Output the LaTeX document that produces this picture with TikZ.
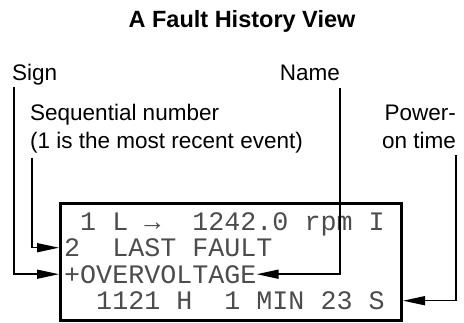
\documentclass[tikz,border=0pt]{standalone}
\usepackage{fontspec}
\setmainfont{Liberation Sans}
\newfontfamily\lcdfont{Liberation Mono}
\usetikzlibrary{arrows.meta}

\begin{document}
\begin{tikzpicture}[x=1pt,y=-1pt,>={Triangle[length=22pt,width=9pt]},inner sep=0pt,
  lbl/.style={font=\fontsize{22.5}{27}\selectfont},
  row/.style={anchor=base west,text=black!70,font=\lcdfont\fontsize{26.7}{30}\selectfont},
  conn/.style={line width=1.5pt}]
\useasboundingbox (0,0) rectangle (464,322);
\node[anchor=base,font=\bfseries\fontsize{23.5}{28}\selectfont] (title) at (242,27) {A Fault History View};
\node[lbl,anchor=base west] (sign) at (12,80) {Sign};
\node[lbl,anchor=base east] (name) at (340,80) {Name};
\node[lbl,anchor=base west] (seq) at (30,120) {Sequential number};
\node[lbl,anchor=base west] (seqb) at (30,148) {(1 is the most recent event)};
\node[lbl,anchor=base east] (pow) at (456,120) {Power-};
\node[lbl,anchor=base east] (powb) at (456,148) {on time};
\node[draw,line width=3pt,minimum width=341pt,minimum height=117pt] (box) at (231,262) {};
\node[row] (row1) at (64,230) {~1~L~→~~1242.0~rpm~I};
\node[row] (row2) at (64,256.5) {2~~LAST~FAULT};
\node[row] (row3) at (64,283) {+OVERVOLTAGE};
\node[row] (row4) at (64,309.5) {~~1121~H~~1~MIN~23~S};
\coordinate (s0) at (14,87);
\coordinate (q0) at (32,158);
\coordinate (n0) at (340,88);
\coordinate (p0) at (456,155);
\draw[conn,->] (s0) |- (box.west |- row3.west);
\draw[conn,->] (q0) |- (box.west |- row2.west);
\draw[conn,->] (n0) |- (row3.east);
\draw[conn,->] (p0) |- (box.east |- row4.east);
\end{tikzpicture}
\end{document}
